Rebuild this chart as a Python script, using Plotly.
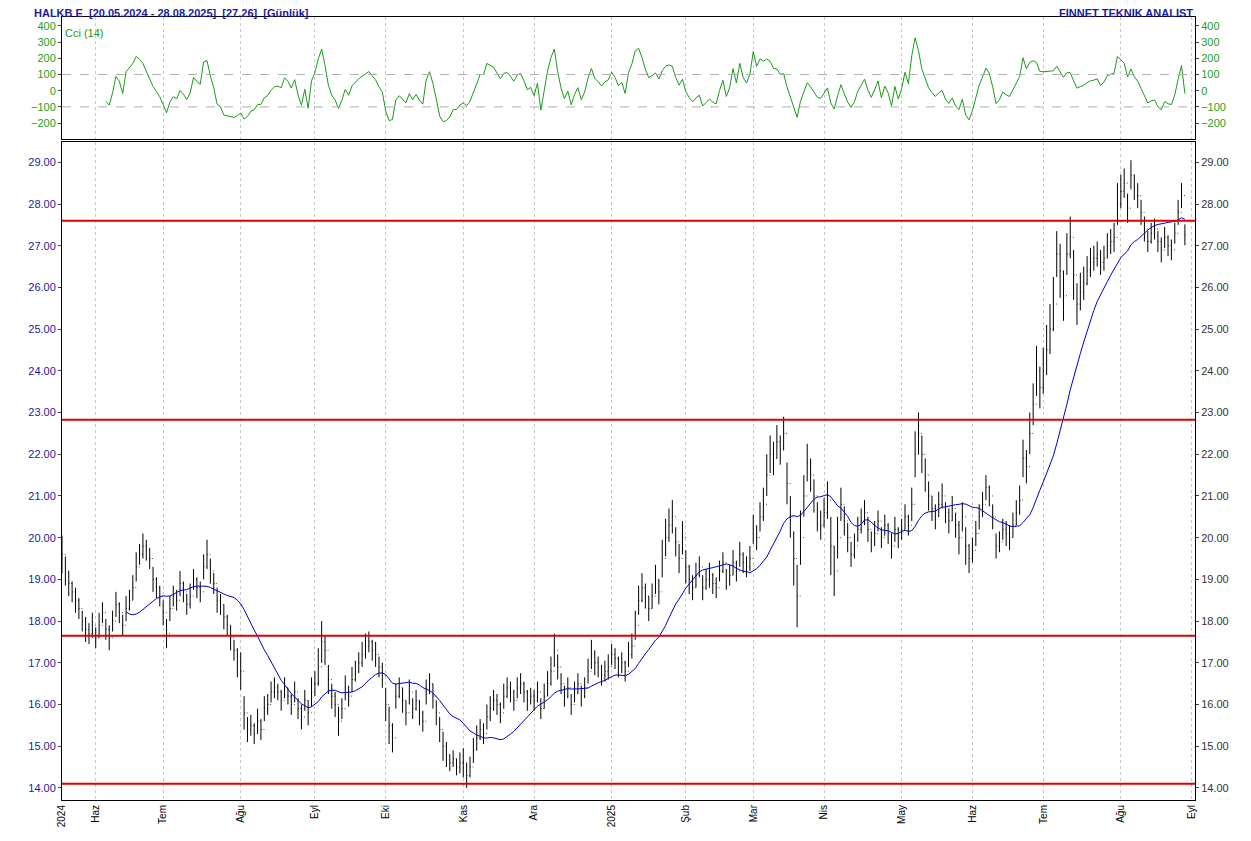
import plotly.graph_objects as go
import pandas as pd

# daily closes, month by month (20.05.2024 - 28.08.2025)
closes = (
    [19.6, 19.2, 18.9, 18.7, 18.5, 18.3, 18.0, 17.8, 17.7, 17.9]
    + [17.6, 17.9, 18.2, 17.8, 17.6, 18.0, 18.4, 18.2, 17.9, 18.3, 18.5, 18.8, 19.3, 19.6, 19.8, 19.7, 19.5, 19.0, 18.8, 18.6]
    + [18.2, 17.7, 18.3, 18.6, 18.5, 18.9, 18.7, 18.4, 18.6, 19.0, 18.8, 18.7, 19.3, 19.6, 19.2, 18.9, 18.5, 18.4, 18.1, 17.9, 17.6, 17.3, 17.0]
    + [16.8, 15.8, 15.4, 15.5, 15.3, 15.6, 15.4, 15.9, 16.0, 16.3, 16.4, 16.3, 16.1, 16.4, 16.2, 16.0, 16.3, 15.9, 15.7, 16.1, 15.8, 16.3]
    + [16.5, 16.9, 17.5, 17.3, 16.6, 16.2, 16.0, 15.6, 15.9, 16.4, 16.2, 16.6, 16.8, 17.0, 17.2, 17.4, 17.5, 17.3, 17.2, 16.9, 16.7]
    + [16.0, 15.5, 15.2, 16.2, 16.4, 16.1, 15.8, 16.3, 15.9, 16.1, 15.8, 15.6, 16.3, 16.5, 16.2, 15.8, 15.4, 15.0, 14.8, 14.6, 14.7, 14.5, 14.6]
    + [14.6, 14.3, 14.5, 14.9, 15.2, 15.4, 15.3, 15.7, 15.9, 16.1, 16.0, 15.8, 16.2, 16.4, 16.3, 16.1, 16.4, 16.5, 16.3, 16.1, 16.2]
    + [16.1, 16.3, 15.9, 16.2, 16.5, 16.8, 17.3, 16.9, 16.5, 16.2, 16.4, 16.0, 16.3, 16.5, 16.2, 16.4, 16.8, 17.2, 17.0, 16.9, 16.7, 16.8]
    + [16.9, 17.2, 17.1, 16.9, 17.0, 16.8, 17.2, 17.4, 17.9, 18.5, 18.8, 18.6, 18.3, 18.6, 19.0, 18.7, 19.5, 20.0, 20.3, 20.5, 19.9, 19.5, 20.0]
    + [19.3, 19.0, 18.8, 19.1, 19.3, 18.8, 19.0, 19.1, 18.9, 18.8, 19.2, 19.4, 19.0, 19.1, 19.4, 19.2, 19.6, 19.4, 19.3, 19.5]
    + [20.2, 20.0, 20.5, 20.8, 21.5, 22.0, 21.9, 22.3, 22.1, 22.5, 21.3, 20.5, 19.5, 18.6, 20.0, 21.0, 21.8, 21.5, 21.0, 20.5, 20.3]
    + [20.6, 20.9, 19.8, 19.2, 20.0, 20.8, 20.4, 20.0, 19.6, 19.8, 20.2, 20.4, 20.6, 20.2, 19.9, 20.1, 20.4, 20.0, 20.3, 20.1, 19.8, 20.2]
    + [20.0, 20.2, 20.5, 20.3, 20.8, 22.0, 22.5, 22.0, 21.5, 21.0, 20.7, 20.5, 20.8, 21.0, 20.6, 20.4, 20.7, 20.3, 20.0, 20.5, 19.8, 19.5]
    + [19.7, 20.1, 20.5, 20.8, 21.2, 21.0, 20.5, 19.8, 19.9, 20.2, 20.1, 20.0, 20.3, 20.6, 20.9, 21.9, 21.7, 22.5, 23.2, 24.0, 23.6]
    + [24.0, 24.5, 25.0, 25.6, 26.8, 26.4, 25.8, 26.8, 27.2, 26.3, 25.6, 25.9, 26.1, 26.4, 26.6, 26.7, 26.8, 26.6, 26.7, 27.0, 27.1, 27.2, 28.0]
    + [28.3, 28.5, 27.9, 28.7, 28.4, 28.2, 27.8, 27.4, 27.1, 27.3, 27.4, 27.1, 26.9, 27.2, 27.0, 26.9, 27.3, 27.8, 28.2, 27.26]
)

# daily high-low span
spans = (
    [0.9, 0.7, 0.6, 0.5, 0.6, 0.5, 0.5, 0.6, 0.5, 0.6]
    + [0.5, 0.6, 0.5, 0.5, 0.6, 0.5, 0.6, 0.5, 0.5, 0.6, 0.5, 0.6, 0.7, 0.5, 0.6, 0.5, 0.5, 0.6, 0.5, 0.5]
    + [0.6, 0.7, 0.6, 0.5, 0.5, 0.6, 0.5, 0.5, 0.6, 0.5, 0.5, 0.5, 0.6, 0.7, 0.6, 0.5, 0.6, 0.5, 0.6, 0.5, 0.6, 0.5, 0.7]
    + [0.9, 0.8, 0.6, 0.5, 0.5, 0.6, 0.5, 0.6, 0.5, 0.5, 0.5, 0.4, 0.5, 0.5, 0.4, 0.5, 0.5, 0.5, 0.6, 0.5, 0.6, 0.7]
    + [0.6, 0.9, 1.0, 0.7, 0.7, 0.6, 0.6, 0.7, 0.5, 0.6, 0.5, 0.6, 0.5, 0.5, 0.6, 0.6, 0.5, 0.5, 0.6, 0.5, 0.6]
    + [0.8, 0.9, 0.7, 0.6, 0.5, 0.6, 0.6, 0.6, 0.5, 0.5, 0.6, 0.5, 0.6, 0.5, 0.6, 0.6, 0.6, 0.7, 0.6, 0.4, 0.4, 0.4, 0.5]
    + [0.7, 0.6, 0.5, 0.6, 0.6, 0.5, 0.5, 0.6, 0.6, 0.5, 0.5, 0.5, 0.6, 0.5, 0.5, 0.5, 0.5, 0.5, 0.5, 0.5, 0.4]
    + [0.5, 0.5, 0.5, 0.6, 0.6, 0.7, 0.8, 0.6, 0.5, 0.5, 0.5, 0.5, 0.5, 0.5, 0.5, 0.5, 0.6, 0.7, 0.6, 0.5, 0.5, 0.5]
    + [0.6, 0.5, 0.5, 0.5, 0.5, 0.5, 0.6, 0.6, 0.7, 0.7, 0.7, 0.6, 0.6, 0.6, 0.7, 0.6, 0.9, 0.9, 0.8, 0.8, 0.7, 0.7, 0.8]
    + [0.8, 0.7, 0.6, 0.6, 0.5, 0.6, 0.5, 0.6, 0.5, 0.5, 0.5, 0.5, 0.5, 0.5, 0.6, 0.5, 0.6, 0.5, 0.5, 0.6]
    + [0.7, 0.6, 0.7, 0.8, 1.0, 0.9, 0.8, 0.8, 0.7, 0.8, 1.0, 1.0, 1.3, 1.5, 1.3, 1.0, 0.9, 0.8, 0.8, 0.7, 0.7]
    + [0.7, 0.9, 1.4, 1.2, 1.0, 0.8, 0.7, 0.7, 0.6, 0.6, 0.6, 0.6, 0.6, 0.6, 0.5, 0.6, 0.5, 0.5, 0.5, 0.5, 0.6, 0.6]
    + [0.5, 0.5, 0.6, 0.5, 0.8, 1.1, 1.0, 0.9, 0.8, 0.7, 0.6, 0.6, 0.6, 0.6, 0.5, 0.6, 0.6, 0.6, 0.8, 0.7, 0.9, 0.7]
    + [0.6, 0.6, 0.6, 0.6, 0.6, 0.5, 0.6, 0.6, 0.5, 0.5, 0.6, 0.6, 0.6, 0.6, 0.7, 0.9, 0.8, 1.0, 1.0, 1.2, 1.0]
    + [1.1, 1.2, 1.2, 1.3, 1.1, 1.3, 1.2, 1.0, 1.0, 1.2, 1.0, 0.9, 0.8, 0.7, 0.7, 0.6, 0.6, 0.6, 0.6, 0.6, 0.6, 0.7, 1.0]
    + [0.8, 0.7, 0.7, 0.7, 0.6, 0.6, 0.6, 0.6, 0.5, 0.5, 0.5, 0.5, 0.6, 0.5, 0.5, 0.5, 0.5, 0.6, 0.6, 0.5]
)

levels = [27.6, 22.83, 17.65, 14.1]
month_starts = ["2024-05-20", "2024-06-03", "2024-07-01", "2024-08-01", "2024-09-02", "2024-10-01",
                "2024-11-01", "2024-12-02", "2025-01-02", "2025-02-03", "2025-03-03", "2025-04-01",
                "2025-05-02", "2025-06-02", "2025-07-01", "2025-08-01", "2025-09-01"]
month_labels = ["2024", "Haz", "Tem", "Ağu", "Eyl", "Eki", "Kas", "Ara", "2025", "Şub",
                "Mar", "Nis", "May", "Haz", "Tem", "Ağu", "Eyl"]

df = pd.DataFrame({"c": closes, "r": spans})
df["date"] = pd.bdate_range("2024-05-20", periods=len(df))
df["h"] = df["c"] + df["r"] * 0.5
df["l"] = df["c"] - df["r"] * 0.5
df["o"] = df["c"].shift(1).fillna(df["c"])
df["ma"] = df["c"].rolling(20).mean()
tp = (df["h"] + df["l"] + df["c"]) / 3
sma = tp.rolling(14).mean()
mad = tp.rolling(14).apply(lambda s: (s - s.mean()).abs().mean())
df["cci"] = (tp - sma) / (0.015 * mad)

x0 = pd.Timestamp("2024-05-20")
x1 = pd.Timestamp("2025-09-02")

fig = go.Figure()
fig.add_trace(go.Ohlc(x=df["date"], open=df["o"], high=df["h"], low=df["l"], close=df["c"],
                      increasing_line_color="black", decreasing_line_color="black",
                      line_width=1, tickwidth=0.2, xaxis="x", yaxis="y", hoverinfo="skip"))
fig.add_trace(go.Scatter(x=df["date"], y=df["ma"], mode="lines", line=dict(color="#0000c8", width=1),
                         xaxis="x", yaxis="y"))
for lv in levels:
    fig.add_trace(go.Scatter(x=[x0, x1], y=[lv, lv], mode="lines", line=dict(color="#e00000", width=2),
                             xaxis="x", yaxis="y"))
fig.add_trace(go.Scatter(x=df["date"], y=df["cci"], mode="lines", line=dict(color="#1a9a1a", width=1),
                         xaxis="x2", yaxis="y3"))
for lv in [100, -100]:
    fig.add_trace(go.Scatter(x=[x0, x1], y=[lv, lv], mode="lines", line=dict(color="#b0b0b0", width=1, dash="dash"),
                             xaxis="x2", yaxis="y3"))
fig.add_trace(go.Scatter(x=[df["date"].iloc[0]], y=[20], yaxis="y2", xaxis="x", mode="markers", marker_opacity=0, hoverinfo="skip"))
fig.add_trace(go.Scatter(x=[df["date"].iloc[0]], y=[0], yaxis="y4", xaxis="x2", mode="markers", marker_opacity=0, hoverinfo="skip"))

xcommon = dict(type="date", range=[x0, x1], rangebreaks=[dict(bounds=["sat", "mon"])],
               tickvals=month_starts, ticktext=month_labels, showgrid=True,
               gridcolor="#c8c8c8", griddash="dot", showline=True, linecolor="black", mirror=True,
               rangeslider_visible=False, zeroline=False)
tickf = dict(family="Arial", size=11)
prices = [14, 15, 16, 17, 18, 19, 20, 21, 22, 23, 24, 25, 26, 27, 28, 29]
ccis = [-200, -100, 0, 100, 200, 300, 400]
fig.update_layout(
    width=1251, height=841, showlegend=False, plot_bgcolor="white", paper_bgcolor="white",
    margin=dict(l=54, r=64, t=9, b=49),
    xaxis=dict(**xcommon, anchor="y", tickangle=-90, tickfont=dict(family="Arial", size=10, color="black")),
    xaxis2=dict(**xcommon, anchor="y3", showticklabels=False, matches="x"),
    yaxis=dict(domain=[0, 0.84], range=[13.71, 29.48], tickvals=prices,
               tickformat=".2f", tickfont=dict(tickf, color="#1a1aa0"), showgrid=False, zeroline=False,
               showline=True, linecolor="black", mirror=True, ticks="outside", ticklen=3),
    yaxis2=dict(overlaying="y", side="right", range=[13.71, 29.48], tickvals=prices,
                tickformat=".2f", tickfont=dict(tickf, color="#333333"), showgrid=False, zeroline=False,
                ticks="outside", ticklen=3),
    yaxis3=dict(domain=[0.844, 1], range=[-299, 455], tickvals=ccis,
                tickfont=dict(tickf, color="#1aa01a"), showgrid=False, zeroline=False,
                showline=True, linecolor="black", mirror=True, ticks="outside", ticklen=3),
    yaxis4=dict(overlaying="y3", side="right", range=[-299, 455], tickvals=ccis,
                tickfont=dict(tickf, color="#1aa01a"), showgrid=False, zeroline=False, ticks="outside", ticklen=3),
    annotations=[
        dict(text="<b>HALKB E  [20.05.2024 - 28.08.2025]  [27.26]  [Günlük]</b>", x=0, y=1, xref="paper", yref="paper",
             xanchor="left", yanchor="bottom", showarrow=False, xshift=-30, yshift=-4,
             font=dict(family="Arial", size=11, color="#1a1aa0")),
        dict(text="<b>FİNNET TEKNİK ANALİST</b>", x=1, y=1, xref="paper", yref="paper",
             xanchor="right", yanchor="bottom", showarrow=False, yshift=-4,
             font=dict(family="Arial", size=11, color="#1a1aa0")),
        dict(text="Cci (14)", x=0, y=0.99, xref="paper", yref="paper", xanchor="left", yanchor="top",
             showarrow=False, xshift=1, font=dict(family="Arial", size=11, color="#1a9a1a")),
    ],
)

fig.write_html("out.html")
